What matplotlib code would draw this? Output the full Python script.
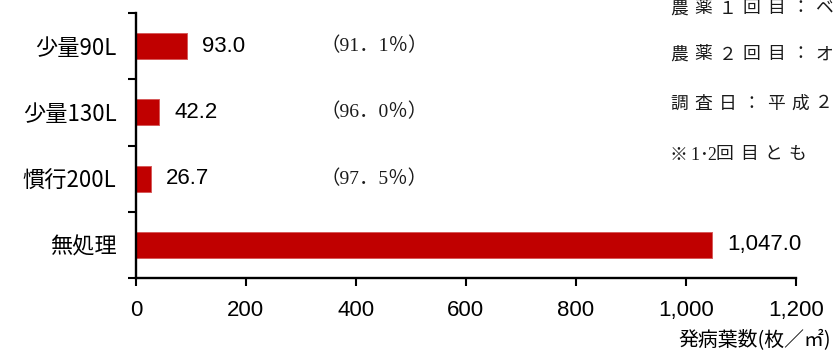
import matplotlib
matplotlib.use("Agg")
import unicodedata
import matplotlib.pyplot as plt
from matplotlib.transforms import offset_copy

plt.rcParams['font.family'] = ['Liberation Sans', 'Noto Sans CJK JP', 'DejaVu Sans']

# data (top to bottom)
categories = ["少量90L", "少量130L", "慣行200L", "無処理"]
values = [93.0, 42.2, 26.7, 1047.0]
ratios = ["（91．1％）", "（96．0％）", "（97．5％）", None]
xticks = [0, 200, 400, 600, 800, 1000, 1200]
xlabel = "発病葉数(枚／㎡)"
notes = ["農薬１回目：ベ", "農薬２回目：オ", "調査日：平成２", "※1･2回目とも"]

RED = "#C00000"
CJK = ['Noto Sans CJK JP', 'DejaVu Sans']
SERIF = ['Liberation Serif', 'Noto Sans CJK JP', 'DejaVu Sans']

fig = plt.figure(figsize=(8.34, 3.54), dpi=100)
ax = fig.add_axes([0.163, 0.2147, 0.791, 0.7485])

ypos = list(range(len(categories)))
ax.barh(ypos, values, height=0.39, color=RED, edgecolor="#d65a5a", linewidth=0.7)

ax.set_xlim(0, 1200)
ax.set_ylim(3.5, -0.5)

# value labels
for y, v in zip(ypos, values):
    ax.annotate(f"{v:,.1f}", xy=(v, y), xytext=(11, 0), textcoords="offset points",
                ha="left", va="center", fontsize=16, family=['Liberation Sans'])

# control efficacy labels
for y, r in zip(ypos, ratios):
    if r:
        ax.text(335, y, r, ha="left", va="center", fontsize=14, family=SERIF,
                color="#1a1a1a")

# spines and ticks
for s in ("top", "right"):
    ax.spines[s].set_visible(False)
for s in ("left", "bottom"):
    ax.spines[s].set_linewidth(1.7)

ax.set_xticks(xticks)
ax.set_xticklabels([f"{t:,}" for t in xticks], fontsize=16)
ax.tick_params(axis="x", direction="out", length=6, width=1.5, pad=10)

ax.set_yticks(ypos)
ax.set_yticklabels(categories, fontsize=16, family=CJK)
ax.tick_params(axis="y", which="major", length=0, pad=14)
ax.set_yticks([-0.5, 0.5, 1.5, 2.5, 3.5], minor=True)
ax.tick_params(axis="y", which="minor", direction="out", length=5.5, width=1.5)

fig.text(0.997, 0.038, xlabel, ha="right", va="center", fontsize=14.3, family=CJK)

# notes at the upper right: full-width characters on a fixed pitch
full_pitch, half_pitch = 24.2, 8.5
line_y = [9, 55, 104, 155]
for line, yy in zip(notes, line_y):
    x = 670
    for ch in line:
        tr = offset_copy(fig.transFigure, fig=fig, x=x, y=-yy, units="dots")
        fig.text(0, 1, ch, transform=tr, ha="left", va="center", fontsize=12.8,
                 family=SERIF, color="#1a1a1a")
        wide = unicodedata.east_asian_width(ch) in ("W", "F", "A")
        x += full_pitch if wide else half_pitch
        if ch == "※":
            x -= 4

fig.savefig("out.png", dpi=100)
